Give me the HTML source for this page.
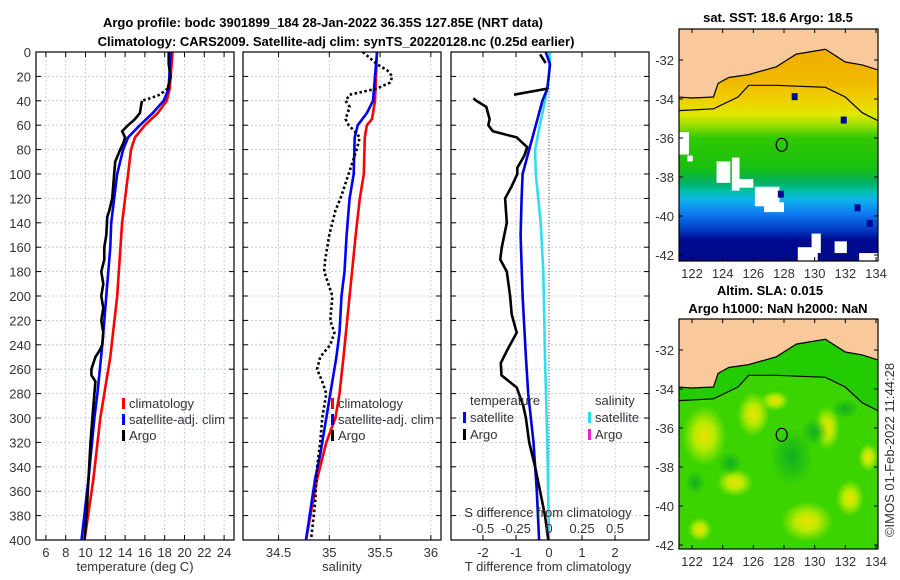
<!DOCTYPE html>
<html><head><meta charset="utf-8">
<style>
html,body{margin:0;padding:0;background:#fff;}
svg{display:block;font-family:"Liberation Sans","DejaVu Sans",sans-serif;}
.tick{font-size:13px;fill:#333;}
.ttl{font-size:13px;font-weight:bold;fill:#000;}
</style></head>
<body>
<svg id="fig" width="900" height="580" viewBox="0 0 900 580" xmlns="http://www.w3.org/2000/svg">
<defs>
  <clipPath id="clipP1"><rect x="36" y="52" width="198" height="488"/></clipPath>
  <clipPath id="clipP2"><rect x="243" y="52" width="198" height="488"/></clipPath>
  <clipPath id="clipP3"><rect x="451" y="52" width="198" height="488"/></clipPath>
  <clipPath id="clipM1"><rect x="679" y="29" width="199" height="232"/></clipPath>
  <clipPath id="clipM2"><rect x="679" y="319" width="199" height="230"/></clipPath>
  <linearGradient id="sstGrad" x1="0" y1="0" x2="0" y2="1">
    <stop offset="0" stop-color="#f0a800"/>
    <stop offset="0.22" stop-color="#f0b800"/>
    <stop offset="0.32" stop-color="#eed400"/>
    <stop offset="0.37" stop-color="#e0e800"/>
    <stop offset="0.42" stop-color="#90dc00"/>
    <stop offset="0.47" stop-color="#30c800"/>
    <stop offset="0.60" stop-color="#18c010"/>
    <stop offset="0.66" stop-color="#00b060"/>
    <stop offset="0.70" stop-color="#00c0a8"/>
    <stop offset="0.74" stop-color="#10b0f0"/>
    <stop offset="0.80" stop-color="#1078f0"/>
    <stop offset="0.86" stop-color="#0040c8"/>
    <stop offset="0.91" stop-color="#000a90"/>
    <stop offset="1" stop-color="#000a88"/>
  </linearGradient>
  <radialGradient id="blob"><stop offset="0" stop-color="#f0e000"/><stop offset="0.45" stop-color="#d8f000" stop-opacity="0.8"/><stop offset="1" stop-color="#c8f000" stop-opacity="0"/></radialGradient>
  <radialGradient id="blobD"><stop offset="0" stop-color="#10b020"/><stop offset="1" stop-color="#10b020" stop-opacity="0"/></radialGradient>
</defs>

<text class="ttl" x="323" y="27" text-anchor="middle">Argo profile: bodc 3901899_184 28-Jan-2022 36.35S 127.85E (NRT data)</text>
<text class="ttl" x="336" y="46" text-anchor="middle">Climatology: CARS2009. Satellite-adj clim: synTS_20220128.nc (0.25d earlier)</text>

<g id="panels"></g>
<g id="maps"></g>

<text class="tick" x="135" y="571" text-anchor="middle">temperature (deg C)</text>
<text class="tick" x="342" y="571" text-anchor="middle">salinity</text>
<text class="tick" x="548" y="571" text-anchor="middle">T difference from climatology</text>
<text class="tick" x="548" y="517" text-anchor="middle">S difference from climatology</text>

<text class="ttl" x="778" y="22" text-anchor="middle">sat. SST: 18.6 Argo: 18.5</text>
<text class="ttl" x="770" y="295" text-anchor="middle">Altim. SLA: 0.015</text>
<text class="ttl" x="778" y="313" text-anchor="middle">Argo h1000: NaN h2000: NaN</text>
<text class="tick" x="0" y="0" transform="translate(894,450) rotate(-90)" text-anchor="middle">©IMOS 01-Feb-2022 11:44:28</text>
</svg>

<script>
// ---------- data ----------
const tDepth = [0,30,40,50,60,70,80,100,120,140,200,250,300,350,400];
const tClim  = [18.8,18.5,18.2,17.3,16.0,15.0,14.6,14.3,14.0,13.7,13.2,12.5,11.5,10.8,9.9];
const tSatDepth = [0,30,40,50,60,70,80,100,120,140,160,200,240,280,300,350,400];
const tSat   = [18.6,18.4,17.9,16.8,15.5,14.3,13.8,13.2,12.9,12.6,12.5,12.1,11.7,11.2,10.9,10.3,9.6];
const argoTDepth = [0,10,20,30,35,38,40,50,55,60,65,70,75,80,90,100,110,120,130,135,150,160,170,180,190,200,210,220,230,240,245,250,260,265,270,280,300,320,350,380,400];
const argoT = [18.4,18.4,18.6,18.3,17.5,16.5,15.7,15.5,15.0,14.3,13.7,14.0,13.8,13.5,13.0,12.9,12.8,12.7,12.4,12.2,12.1,11.9,11.9,11.6,11.8,11.6,11.8,11.6,11.8,11.7,11.4,11.0,10.6,10.6,11.0,10.9,10.7,10.5,10.3,10.1,9.9];

const sClimDepth = [0,20,40,55,60,70,100,120,150,200,250,280,300,320,350,400];
const sClim = [35.47,35.46,35.45,35.42,35.37,35.35,35.34,35.30,35.26,35.20,35.14,35.10,35.06,34.97,34.88,34.77];
const sSatDepth = [0,20,40,50,60,70,100,120,150,180,200,230,250,280,300,330,350,400];
const sSat = [35.47,35.45,35.43,35.37,35.28,35.25,35.24,35.20,35.17,35.15,35.12,35.10,35.07,35.01,34.97,34.91,34.86,34.77];
const argoSDepth = [0,5,10,15,20,25,30,35,40,45,55,60,65,70,80,100,120,130,150,170,180,200,220,230,240,250,260,270,280,300,320,340,370,400];
const argoS = [35.33,35.40,35.47,35.57,35.62,35.60,35.47,35.20,35.16,35.20,35.16,35.19,35.25,35.30,35.27,35.19,35.11,35.06,35.00,34.96,34.95,35.03,35.01,35.05,35.01,34.91,34.88,34.93,34.97,34.93,34.91,34.88,34.86,34.82];

const dDepth = [0,10,30,40,50,60,80,100,120,150,200,250,280,320,360,400];
const dTsat = [-0.1,0.03,-0.05,-0.2,-0.3,-0.4,-0.6,-0.8,-0.83,-0.86,-0.8,-0.7,-0.63,-0.47,-0.37,-0.3];
const dSDepth = [0,20,40,60,80,100,140,180,250,320,400];
const dSsat = [0.008,0.0,-0.03,-0.07,-0.105,-0.1,-0.063,-0.043,-0.03,-0.013,0.0];
const argoDDepth = [38,40,45,55,60,65,70,78,85,95,100,110,120,140,160,170,180,200,215,230,245,255,265,275,290,300,320,340,360,380,400];
const argoDT = [-2.29,-2.2,-1.9,-1.8,-1.84,-1.7,-0.98,-0.66,-0.75,-0.96,-0.96,-1.13,-1.33,-1.28,-1.43,-1.48,-1.28,-1.18,-1.13,-0.98,-1.28,-1.46,-1.44,-0.98,-0.78,-0.7,-0.6,-0.42,-0.27,-0.12,-0.02];
const argoDTopDepth = [2,9];
const argoDTop = [-0.27,-0.1];
const argoDMidDepth = [30,35];
const argoDMid = [-0.05,-1.06];

const depthTicks = [0,20,40,60,80,100,120,140,160,180,200,220,240,260,280,300,320,340,360,380,400];
const tTicks = [6,8,10,12,14,16,18,20,22,24];
const sTicks = [34.5,35,35.5,36];
const dTicks = [-2,-1,0,1,2];
const sDiffTicks = [-0.5,-0.25,0,0.25,0.5];
const latTicks = [-32,-34,-36,-38,-40,-42];
const lonTicks = [122,124,126,128,130,132,134];

// ---------- scales ----------
const PT=52, PB=540;
const yD = d => PT + d*(PB-PT)/400;
const xT = v => 36 + (v-5)*198/20;
const xS = v => 243 + (v-34.15)*198/1.95;
const xD = v => 549 + v*33;
const xSd = v => xD(v*4);
const mx = lon => 692 + (lon-122)*(184/12);
const myTop = lat => 60 + (-32-lat)*19.5;
const myBot = lat => 350 + (-32-lat)*19.5;

const NS='http://www.w3.org/2000/svg';
function mk(tag, attrs, parent){const e=document.createElementNS(NS,tag);for(const k in attrs)e.setAttribute(k,attrs[k]);parent.appendChild(e);return e;}
function pathD(xs, ds, fx){return xs.map((v,i)=>(i?'L':'M')+fx(v).toFixed(1)+','+yD(ds[i]).toFixed(1)).join('');}

const panels=document.getElementById('panels');
function panel(name, x0, ticks, fx, clip, showY){
  const g=mk('g',{},panels);
  
  
  mk('rect',{x:x0,y:PT,width:198,height:PB-PT,fill:'#fff'},g);
  depthTicks.forEach(d=>{
    const l=mk('line',{x1:x0,x2:x0+198,y1:yD(d),y2:yD(d),stroke:'#b8c4e0','stroke-width':0.8,'stroke-dasharray':'2,2'},g);
    
    
    mk('line',{x1:x0,x2:x0+5,y1:yD(d),y2:yD(d),stroke:'#000','stroke-width':1},g);
    mk('line',{x1:x0+193,x2:x0+198,y1:yD(d),y2:yD(d),stroke:'#000','stroke-width':1},g);
    if(showY){
      const t=mk('text',{x:31,y:yD(d)+5,'text-anchor':'end',class:'tick'},g);
      t.textContent=d;
      
      
    }
  });
  ticks.forEach(v=>{
    const l=mk('line',{x1:fx(v),x2:fx(v),y1:PT,y2:PB,stroke:'#b8c4e0','stroke-width':0.8,'stroke-dasharray':'2,2'},g);
    
    
    mk('line',{x1:fx(v),x2:fx(v),y1:PB-5,y2:PB,stroke:'#000'},g);
    mk('line',{x1:fx(v),x2:fx(v),y1:PT,y2:PT+5,stroke:'#000'},g);
    const t=mk('text',{x:fx(v),y:557,'text-anchor':'middle',class:'tick'},g);
    t.textContent=v;
    
    
  });
  return g;
}
function line(g, xs, ds, fx, color, name, dash, clip){
  const p=mk('path',{d:pathD(xs,ds,fx),fill:'none',stroke:color,'stroke-width':2.6,'stroke-linejoin':'round','clip-path':'url(#'+clip+')'},g);
  if(dash) p.setAttribute('stroke-dasharray',dash);
  
  
  return p;
}
function legendEntry(g,x,y,color,label,name){
  mk('rect',{x:x,y:y-10,width:3,height:11,fill:color},g);
  const t=mk('text',{x:x+7,y:y,class:'tick'},g);
  t.textContent=label;
  
  
}
function frame(g,x0){mk('rect',{x:x0,y:PT,width:198,height:PB-PT,fill:'none',stroke:'#000','stroke-width':1.2},g);}

// Panel 1: temperature
const g1=panel('temperature-panel',36,tTicks,xT,'clipP1',true);
line(g1,tClim,tDepth,xT,'#ff0000','temperature-climatology-line',null,'clipP1');
line(g1,tSat,tSatDepth,xT,'#0000ff','temperature-satellite-line',null,'clipP1');
const aTop=argoTDepth.filter(d=>d<=30), aMid=argoTDepth.filter(d=>d>=30&&d<=40), aBot=argoTDepth.filter(d=>d>=40);
line(g1,argoT.slice(0,aTop.length),aTop,xT,'#000','argo-temperature-line-top',null,'clipP1');
line(g1,argoT.slice(argoTDepth.indexOf(30),argoTDepth.indexOf(40)+1),aMid,xT,'#000','argo-temperature-line-gap','2.5,2.5','clipP1');
line(g1,argoT.slice(argoTDepth.indexOf(40)),aBot,xT,'#000','argo-temperature-line',null,'clipP1');
legendEntry(g1,122,408,'#ff0000','climatology','legend-climatology');
legendEntry(g1,122,424,'#0000ff','satellite-adj. clim','legend-satellite-adj-clim');
legendEntry(g1,122,440,'#000','Argo','legend-argo');
frame(g1,36);

// Panel 2: salinity
const g2=panel('salinity-panel',243,sTicks,xS,'clipP2',false);
line(g2,sClim,sClimDepth,xS,'#ff0000','salinity-climatology-line',null,'clipP2');
line(g2,sSat,sSatDepth,xS,'#0000ff','salinity-satellite-line',null,'clipP2');
line(g2,argoS,argoSDepth,xS,'#000','argo-salinity-line','2.5,2.5','clipP2');
legendEntry(g2,331,408,'#ff0000','climatology','legend-climatology-2');
legendEntry(g2,331,424,'#0000ff','satellite-adj. clim','legend-satellite-adj-clim-2');
legendEntry(g2,331,440,'#000','Argo','legend-argo-2');
frame(g2,243);

// Panel 3: differences
const g3=panel('difference-panel',451,dTicks,xD,'clipP3',false);
mk('line',{x1:xD(0),x2:xD(0),y1:PT,y2:PB,stroke:'#555','stroke-width':1,'stroke-dasharray':'1,2'},g3);
line(g3,dSsat,dSDepth,xSd,'#33ddee','salinity-satellite-difference-line',null,'clipP3');
line(g3,dTsat,dDepth,xD,'#0000dd','temperature-satellite-difference-line',null,'clipP3');
line(g3,argoDTop,argoDTopDepth,xD,'#000','argo-temperature-difference-top',null,'clipP3');
line(g3,argoDMid,argoDMidDepth,xD,'#000','argo-temperature-difference-spike',null,'clipP3');
line(g3,argoDT,argoDDepth,xD,'#000','argo-temperature-difference-line',null,'clipP3');
sDiffTicks.forEach(v=>{
  const t=mk('text',{x:xSd(v),y:533,'text-anchor':'middle',class:'tick'},g3);
  t.textContent=v;
  
  
});
(function(){const t=mk('text',{x:470,y:405,class:'tick'},g3);t.textContent='temperature';


const s=mk('text',{x:595,y:405,class:'tick'},g3);s.textContent='salinity';

})();
legendEntry(g3,463,422,'#0000ff','satellite','legend-temp-satellite');
legendEntry(g3,463,439,'#000','Argo','legend-temp-argo');
legendEntry(g3,588,422,'#33ddee','satellite','legend-sal-satellite');
legendEntry(g3,588,439,'#ee22cc','Argo','legend-sal-argo');
frame(g3,451);

// ---------- maps ----------
const coastLon = [121.1,122.0,123.4,123.7,124.4,125.7,127.5,128.8,130.7,132.0,133.1,134.1];
const coastLat = [-33.9,-33.95,-33.9,-33.2,-32.9,-32.75,-32.35,-31.7,-31.45,-32.1,-32.25,-32.5];
const shelfLon = [121.1,123.4,125.0,125.7,127.5,130.7,132.0,133.1,134.1];
const shelfLat = [-34.6,-34.5,-33.9,-33.3,-33.3,-33.4,-33.9,-34.7,-35.1];

const maps=document.getElementById('maps');
function map(name, top, bottom, myF, clip, isSST){
  const g=mk('g',{'clip-path':'url(#'+clip+')'},maps);
  
  
  if(isSST){
    mk('rect',{x:679,y:top,width:199,height:bottom-top,fill:'url(#sstGrad)'},g);
    [[121.1,-35.7,0.7,1.15],[121.7,-36.9,0.35,0.3],[123.6,-37.2,0.9,1.1],[124.6,-37.0,0.5,1.7],[124.9,-38.1,1.1,0.45],[126.1,-38.5,1.6,1.0],[126.7,-39.3,1.3,0.5],[129.8,-40.9,0.6,1.0],[128.9,-41.6,1.3,1.0],[131.3,-41.3,0.8,0.6],[132.9,-41.9,1.2,0.7]].forEach(c=>{
      const r=mk('rect',{x:mx(c[0]),y:myF(c[1]),width:c[2]*15.33,height:c[3]*19.5,fill:'#fff'},g);
      
      
    });
    [[127.6,-38.7],[132.6,-39.4],[133.4,-40.2],[128.5,-33.7],[131.7,-34.9]].forEach(c=>{
      mk('rect',{x:mx(c[0]),y:myF(c[1]),width:6,height:7,fill:'#000a90'},g);
    });
  } else {
    mk('rect',{x:679,y:top,width:199,height:bottom-top,fill:'#3cd400'},g);
    [[122.8,-36.4,22,30],[126.0,-35.3,16,22],[129.5,-40.8,26,20],[124.8,-38.8,18,14],[130.8,-36.0,13,22],[132.3,-39.6,14,18],[122.5,-41.2,12,12],[127.4,-34.6,14,10],[133.5,-37.5,10,14]].forEach(c=>{
      const e=mk('ellipse',{cx:mx(c[0]),cy:myF(c[1]),rx:c[2],ry:c[3],fill:'url(#blob)'},g);
      
      
    });
    [[128.5,-37.5,22,30],[130.0,-36.2,14,14],[124.5,-37.8,12,12],[122.2,-38.8,10,12],[132.0,-35.0,14,10]].forEach(c=>{
      mk('ellipse',{cx:mx(c[0]),cy:myF(c[1]),rx:c[2],ry:c[3],fill:'url(#blobD)'},g);
    });
    let sp='M'+mx(coastLon[0])+','+myF(coastLat[0]);
    coastLon.forEach((v,i)=>sp+='L'+mx(v)+','+myF(coastLat[i]));
    for(let i=shelfLon.length-1;i>=0;i--) sp+='L'+mx(shelfLon[i])+','+myF(shelfLat[i]);
    mk('path',{d:sp+'Z',fill:'#22cc00'},g);
  }
  // land
  let lp='M670,'+(top-5)+'L670,'+myF(coastLat[0]).toFixed(1);
  coastLon.forEach((v,i)=>lp+='L'+mx(v).toFixed(1)+','+myF(coastLat[i]).toFixed(1));
  lp+='L890,'+myF(coastLat[coastLat.length-1]).toFixed(1)+'L890,'+(top-5)+'Z';
  const land=mk('path',{d:lp,fill:'#f9c99b',stroke:'#000','stroke-width':1.2},g);
  
  
  const sh=mk('path',{d:shelfLon.map((v,i)=>(i?'L':'M')+mx(v).toFixed(1)+','+myF(shelfLat[i]).toFixed(1)).join(''),fill:'none',stroke:'#000','stroke-width':1.2},g);
  
  
  const c=mk('ellipse',{cx:mx(127.85),cy:myF(-36.35),rx:5.5,ry:6.5,fill:'none',stroke:'#000','stroke-width':1.2},g);
  
  
  const ax=mk('g',{},maps);
  mk('rect',{x:679,y:top,width:199,height:bottom-top,fill:'none',stroke:'#000','stroke-width':1.2},ax);
  latTicks.forEach(l=>{
    mk('line',{x1:679,x2:683,y1:myF(l),y2:myF(l),stroke:'#000'},ax);
    mk('line',{x1:874,x2:878,y1:myF(l),y2:myF(l),stroke:'#000'},ax);
    const t=mk('text',{x:674,y:myF(l)+5,'text-anchor':'end',class:'tick'},ax);
    t.textContent=l;
    
    
  });
  lonTicks.forEach(l=>{
    mk('line',{x1:mx(l),x2:mx(l),y1:bottom-4,y2:bottom,stroke:'#000'},ax);
    mk('line',{x1:mx(l),x2:mx(l),y1:top,y2:top+4,stroke:'#000'},ax);
    const t=mk('text',{x:mx(l),y:bottom+17,'text-anchor':'middle',class:'tick'},ax);
    t.textContent=l;
    
    
  });
}
map('sst-map',29,261,myTop,'clipM1',true);
map('sla-map',319,549,myBot,'clipM2',false);
</script>
</body></html>
